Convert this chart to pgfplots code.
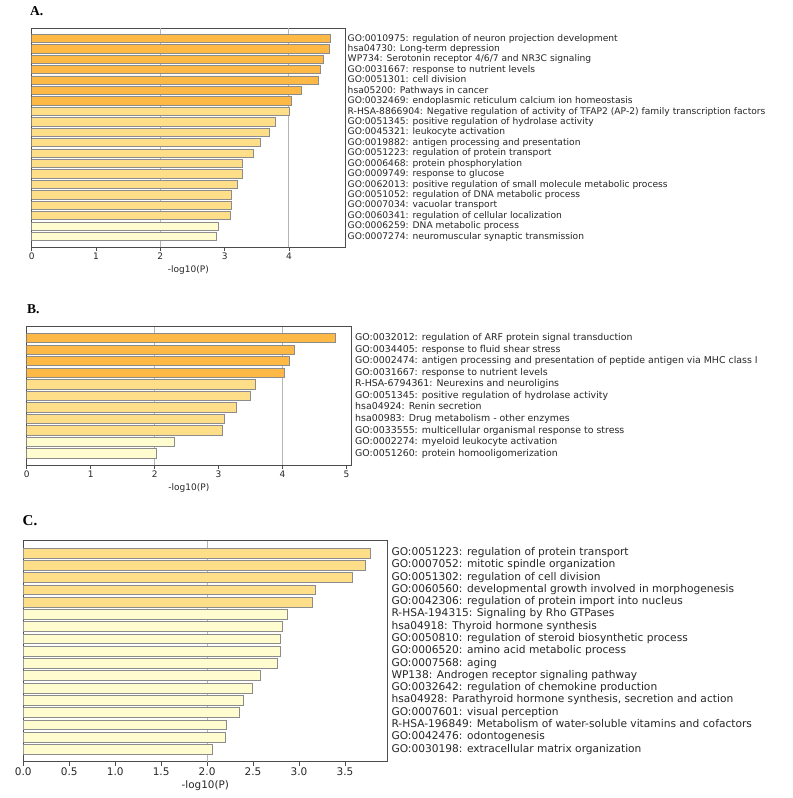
\documentclass[border=0pt]{standalone}
\usepackage{pgfplots}
\pgfplotsset{compat=1.18}
\usepackage{fontspec}
\setmainfont{DejaVu Sans}
\newfontfamily\titlefont{Liberation Serif}
\definecolor{darkor}{HTML}{FEB845}
\definecolor{lightor}{HTML}{FEDE88}
\definecolor{paleyel}{HTML}{FFFDD0}
\definecolor{edgegray}{HTML}{8C8C8C}
\definecolor{txt}{HTML}{262626}
\definecolor{gridc}{HTML}{B4B4B4}
\pgfplotsset{
  metabar/.style={
    scale only axis,
    xbar, bar width=0.8, bar shift=0pt,
    y dir=reverse,
    xmin=0,
    axis line style={draw=black!70, line width=0.8bp},
    tick align=outside,
    xtick pos=bottom,
    ytick pos=right,
    yticklabel pos=right,
    y tick style={draw=none},
    major tick length=4bp,
    x tick style={draw=black!70, line width=0.8bp},
    /pgf/number format/assume math mode=true,
    tick label style={text=txt},
    label style={text=txt},
    y tick label style={anchor=west, text height=0.72em, text depth=0.2em, inner sep=0pt},
    x tick label style={inner sep=2bp},
    xlabel={-log10(P)},
    xlabel style={inner sep=1bp, yshift=2bp},
    extra x tick style={grid=major, major tick length=0pt, major grid style={draw=gridc, line width=1bp}},
    every axis plot/.append style={draw=edgegray, line width=0.8bp},
  }
}
\begin{document}
\begin{tikzpicture}
\useasboundingbox (0,0) rectangle (793bp,-798bp);
% Panel titles
\node[anchor=base west, inner sep=0pt] at (30bp,-15bp) {\titlefont\fontsize{13.5bp}{15bp}\selectfont\bfseries A.};
\node[anchor=base west, inner sep=0pt] at (27bp,-313.5bp) {\titlefont\fontsize{13.5bp}{15bp}\selectfont\bfseries B.};
\node[anchor=base west, inner sep=0pt] at (22.5bp,-525bp) {\titlefont\fontsize{15bp}{16bp}\selectfont\bfseries C.};

% Panel A
\begin{axis}[metabar,
  at={(31.7bp,-247bp)}, anchor=south west,
  width=313.3bp, height=219bp,
  xmax=4.871, ymin=-1, ymax=20,
  xtick={0,1,2,3,4},
  extra x ticks={2,4}, extra x tick labels={},
  ytick={0,...,19},
  x tick label style={font=\fontsize{9bp}{11bp}\selectfont},
  y tick label style={font=\fontsize{9.15bp}{11bp}\selectfont, xshift=-1.5bp},
  label style={font=\fontsize{9bp}{11bp}\selectfont},
  yticklabels={
    {GO:0010975: regulation of neuron projection development},
    {hsa04730: Long-term depression},
    {WP734: Serotonin receptor 4/6/7 and NR3C signaling},
    {GO:0031667: response to nutrient levels},
    {GO:0051301: cell division},
    {hsa05200: Pathways in cancer},
    {GO:0032469: endoplasmic reticulum calcium ion homeostasis},
    {R-HSA-8866904: Negative regulation of activity of TFAP2 (AP-2) family transcription factors},
    {GO:0051345: positive regulation of hydrolase activity},
    {GO:0045321: leukocyte activation},
    {GO:0019882: antigen processing and presentation},
    {GO:0051223: regulation of protein transport},
    {GO:0006468: protein phosphorylation},
    {GO:0009749: response to glucose},
    {GO:0062013: positive regulation of small molecule metabolic process},
    {GO:0051052: regulation of DNA metabolic process},
    {GO:0007034: vacuolar transport},
    {GO:0060341: regulation of cellular localization},
    {GO:0006259: DNA metabolic process},
    {GO:0007274: neuromuscular synaptic transmission}},
]
\addplot[fill=darkor] coordinates {(4.643,0) (4.623,1) (4.540,2) (4.493,3) (4.462,4) (4.192,5) (4.042,6)};
\addplot[fill=lightor] coordinates {(4.005,7) (3.782,8) (3.699,9) (3.549,10) (3.450,11) (3.279,12) (3.279,13) (3.201,14) (3.108,15) (3.108,16) (3.087,17)};
\addplot[fill=paleyel] coordinates {(2.905,18) (2.869,19)};
\end{axis}

% Panel B
\begin{axis}[metabar,
  at={(26.7bp,-465bp)}, anchor=south west,
  width=324.3bp, height=138.3bp,
  xmax=5.07, ymin=-1, ymax=11,
  xtick={0,1,2,3,4,5},
  extra x ticks={2,4}, extra x tick labels={},
  ytick={0,...,10},
  x tick label style={font=\fontsize{9bp}{11bp}\selectfont},
  y tick label style={font=\fontsize{9.4bp}{11bp}\selectfont, xshift=0bp},
  label style={font=\fontsize{9bp}{11bp}\selectfont},
  yticklabels={
    {GO:0032012: regulation of ARF protein signal transduction},
    {GO:0034405: response to fluid shear stress},
    {GO:0002474: antigen processing and presentation of peptide antigen via MHC class I},
    {GO:0031667: response to nutrient levels},
    {R-HSA-6794361: Neurexins and neuroligins},
    {GO:0051345: positive regulation of hydrolase activity},
    {hsa04924: Renin secretion},
    {hsa00983: Drug metabolism - other enzymes},
    {GO:0033555: multicellular organismal response to stress},
    {GO:0002274: myeloid leukocyte activation},
    {GO:0051260: protein homooligomerization}},
]
\addplot[fill=darkor] coordinates {(4.833,0) (4.188,1) (4.109,2) (4.026,3)};
\addplot[fill=lightor] coordinates {(3.568,4) (3.500,5) (3.271,6) (3.089,7) (3.052,8)};
\addplot[fill=paleyel] coordinates {(2.307,9) (2.026,10)};
\end{axis}

% Panel C
\begin{axis}[metabar,
  at={(23.3bp,-761.7bp)}, anchor=south west,
  width=364bp, height=221bp,
  xmax=3.961, ymin=-1, ymax=17,
  xtick={0,0.5,...,3.5},
  /pgf/number format/fixed,
  /pgf/number format/fixed zerofill,
  /pgf/number format/precision=1,
  extra x ticks={2}, extra x tick labels={},
  ytick={0,...,16},
  x tick label style={font=\fontsize{10.5bp}{12bp}\selectfont},
  y tick label style={font=\fontsize{10.65bp}{12bp}\selectfont, xshift=0bp},
  label style={font=\fontsize{10.4bp}{12bp}\selectfont},
  yticklabels={
    {GO:0051223: regulation of protein transport},
    {GO:0007052: mitotic spindle organization},
    {GO:0051302: regulation of cell division},
    {GO:0060560: developmental growth involved in morphogenesis},
    {GO:0042306: regulation of protein import into nucleus},
    {R-HSA-194315: Signaling by Rho GTPases},
    {hsa04918: Thyroid hormone synthesis},
    {GO:0050810: regulation of steroid biosynthetic process},
    {GO:0006520: amino acid metabolic process},
    {GO:0007568: aging},
    {WP138: Androgen receptor signaling pathway},
    {GO:0032642: regulation of chemokine production},
    {hsa04928: Parathyroid hormone synthesis, secretion and action},
    {GO:0007601: visual perception},
    {R-HSA-196849: Metabolism of water-soluble vitamins and cofactors},
    {GO:0042476: odontogenesis},
    {GO:0030198: extracellular matrix organization}},
]
\addplot[fill=lightor] coordinates {(3.772,0) (3.721,1) (3.584,2) (3.177,3) (3.145,4)};
\addplot[fill=paleyel] coordinates {(2.877,5) (2.818,6) (2.801,7) (2.793,8) (2.764,9) (2.583,10) (2.492,11) (2.394,12) (2.350,13) (2.209,14) (2.198,15) (2.060,16)};
\end{axis}
\end{tikzpicture}
\end{document}
